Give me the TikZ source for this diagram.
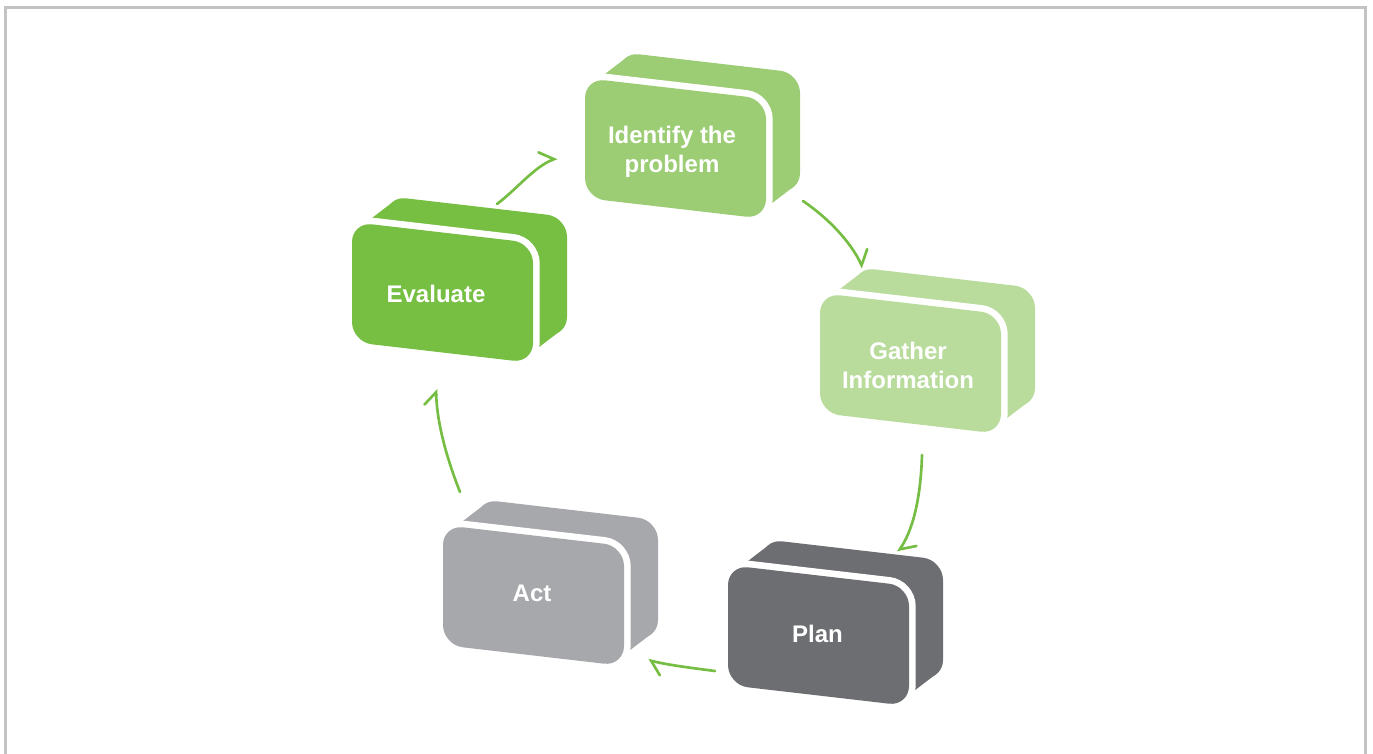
\documentclass[tikz,border=0pt]{standalone}
\usepackage{fontspec}
\setmainfont{Liberation Sans}
\usetikzlibrary{arrows.meta}

\tikzset{every picture/.style={line width=0.75pt}}
\tikzset{
	boxslab/.style={rounded corners=15pt},
	boxface/.style={rounded corners=15pt, preaction={draw=white, line width=10pt}},
	boxtext/.style={text=white, font=\fontsize{18}{21.75}\selectfont\bfseries, align=center, inner sep=0.75pt},
	cyclearrow/.style={draw={rgb, 255:red, 118; green, 190; blue, 67 }, line width=2pt, line cap=round, -{Straight Barb[left, length=9pt, width=18pt, line cap=round]}}
}

\begin{document}
\begin{tikzpicture}[x=0.75pt,y=0.75pt,yscale=-1,xscale=1]
	\useasboundingbox (0,0) rectangle (1373,753);
	
	%Straight Lines [id:frame] 
	\draw [color={rgb, 255:red, 195; green, 195; blue, 195 }, line width=2.25pt]  (5.5,765) -- (5.5,7.2) -- (1365.5,7.2) -- (1365.5,765) ;
	
	%Shape: Box Identify
	\fill [shift={(585,78)}, boxslab, fill={rgb, 255:red, 156; green, 205; blue, 116 }] (34,-26) -- (215,-5) -- (215,115) -- (34,94) -- cycle ;
	\fill [shift={(585,78)}, fill={rgb, 255:red, 156; green, 205; blue, 116 }] (7,5.9) -- (41,-20.1) -- (208,109.1) -- (174,135.1) -- cycle ;
	\fill [shift={(585,78)}, boxface, fill={rgb, 255:red, 156; green, 205; blue, 116 }] (0,0) -- (181,21) -- (181,141) -- (0,120) -- cycle ;
	%Shape: Box Gather
	\fill [shift={(820,293)}, boxslab, fill={rgb, 255:red, 185; green, 220; blue, 157 }] (34,-26) -- (215,-5) -- (215,115) -- (34,94) -- cycle ;
	\fill [shift={(820,293)}, fill={rgb, 255:red, 185; green, 220; blue, 157 }] (7,5.9) -- (41,-20.1) -- (208,109.1) -- (174,135.1) -- cycle ;
	\fill [shift={(820,293)}, boxface, fill={rgb, 255:red, 185; green, 220; blue, 157 }] (0,0) -- (181,21) -- (181,141) -- (0,120) -- cycle ;
	%Shape: Box Plan
	\fill [shift={(728,565)}, boxslab, fill={rgb, 255:red, 109; green, 110; blue, 114 }] (34,-26) -- (215,-5) -- (215,115) -- (34,94) -- cycle ;
	\fill [shift={(728,565)}, fill={rgb, 255:red, 109; green, 110; blue, 114 }] (7,5.9) -- (41,-20.1) -- (208,109.1) -- (174,135.1) -- cycle ;
	\fill [shift={(728,565)}, boxface, fill={rgb, 255:red, 109; green, 110; blue, 114 }] (0,0) -- (181,21) -- (181,141) -- (0,120) -- cycle ;
	%Shape: Box Act
	\fill [shift={(443,525)}, boxslab, fill={rgb, 255:red, 167; green, 168; blue, 172 }] (34,-26) -- (215,-5) -- (215,115) -- (34,94) -- cycle ;
	\fill [shift={(443,525)}, fill={rgb, 255:red, 167; green, 168; blue, 172 }] (7,5.9) -- (41,-20.1) -- (208,109.1) -- (174,135.1) -- cycle ;
	\fill [shift={(443,525)}, boxface, fill={rgb, 255:red, 167; green, 168; blue, 172 }] (0,0) -- (181,21) -- (181,141) -- (0,120) -- cycle ;
	%Shape: Box Evaluate
	\fill [shift={(352,222)}, boxslab, fill={rgb, 255:red, 118; green, 191; blue, 67 }] (34,-26) -- (215,-5) -- (215,115) -- (34,94) -- cycle ;
	\fill [shift={(352,222)}, fill={rgb, 255:red, 118; green, 191; blue, 67 }] (7,5.9) -- (41,-20.1) -- (208,109.1) -- (174,135.1) -- cycle ;
	\fill [shift={(352,222)}, boxface, fill={rgb, 255:red, 118; green, 191; blue, 67 }] (0,0) -- (181,21) -- (181,141) -- (0,120) -- cycle ;
	
	% Text Node
	\node [boxtext] (identify) at (672,152) {Identify the\\problem};
	% Text Node
	\node [boxtext] (gather) at (908,365) {Gather\\Information};
	% Text Node
	\node [boxtext] (plan) at (817.5,633.5) {Plan};
	% Text Node
	\node [boxtext] (act) at (532,593) {Act};
	% Text Node
	\node [boxtext] (evaluate) at (436,293.5) {Evaluate};
	
	%Arrow ends
	\coordinate (idS) at (803,201);
	\coordinate (gaE) at (863,268);
	\coordinate (gaS) at (922,455);
	\coordinate (plE) at (898,552);
	\coordinate (plS) at (715,671);
	\coordinate (acE) at (648,660);
	\coordinate (acS) at (460,492);
	\coordinate (evE) at (436,389);
	\coordinate (evS) at (497,204);
	\coordinate (idE) at (557,158);
	
	%Curve Lines
	\draw [cyclearrow] (idS) .. controls +(25,17) and +(-13,-27) .. (gaE) ;
	\draw [cyclearrow] (gaS) .. controls +(-1,33) and +(18,-27) .. (plE) ;
	\draw [cyclearrow] (plS) .. controls +(-23,-3) and +(20,5) .. (acE) ;
	\draw [cyclearrow] (acS) .. controls +(-13,-33) and +(1,35) .. (evE) ;
	\draw [cyclearrow] (evS) .. controls +(20,-15) and +(-23,9) .. (idE) ;
	
\end{tikzpicture}
\end{document}
